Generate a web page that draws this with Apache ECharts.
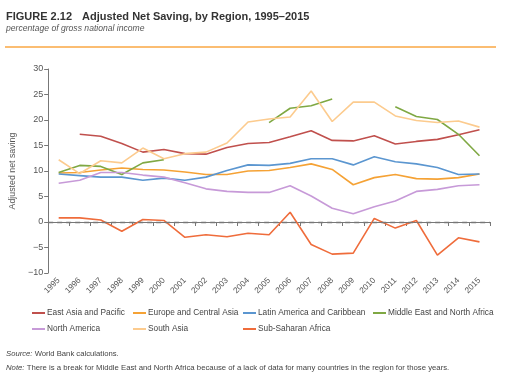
<!DOCTYPE html>
<html><head><meta charset="utf-8">
<script src="https://cdn.jsdelivr.net/npm/echarts@6/dist/echarts.min.js"></script>
<style>html,body{margin:0;padding:0;background:#fff}#c{width:510px;height:379px}</style>
</head><body><div id="c"></div>
<script>
var years = ['1995','1996','1997','1998','1999','2000','2001','2002','2003','2004','2005','2006','2007','2008','2009','2010','2011','2012','2013','2014','2015'];
var eastAsia = [null,17.2,16.8,15.4,13.7,14.2,13.4,13.3,14.6,15.4,15.6,16.7,17.9,16.0,15.9,16.9,15.3,15.8,16.2,17.1,18.1];
var europe = [9.6,9.7,10.2,10.6,10.3,10.2,9.8,9.3,9.3,10.0,10.1,10.7,11.4,10.3,7.3,8.7,9.3,8.5,8.4,8.7,9.4];
var latin = [9.4,9.1,8.8,8.8,8.2,8.6,8.2,8.8,10.1,11.2,11.1,11.5,12.4,12.4,11.2,12.8,11.8,11.4,10.7,9.3,9.4];
var mena = [9.7,11.1,10.9,9.3,11.6,12.2,null,null,null,null,19.5,22.3,22.8,24.1,null,null,22.6,20.7,20.1,17.2,13.0];
var northAm = [7.6,8.2,9.7,9.7,9.2,8.8,7.7,6.5,6.0,5.8,5.8,7.1,5.1,2.7,1.6,3.0,4.1,6.0,6.4,7.1,7.3];
var southAsia = [12.2,9.5,12.0,11.6,14.5,12.4,13.4,13.7,15.5,19.6,20.2,20.6,25.7,19.7,23.5,23.5,20.8,19.9,19.5,19.8,18.6];
var subSahara = [0.8,0.8,0.4,-1.8,0.5,0.3,-3.0,-2.5,-2.9,-2.2,-2.5,1.9,-4.4,-6.3,-6.1,0.7,-1.2,0.3,-6.5,-3.1,-3.9];
var yTicks = [-10,-5,0,5,10,15,20,25,30];

var names = ['East Asia and Pacific','Europe and Central Asia','Latin America and Caribbean','Middle East and North Africa','North America','South Asia','Sub-Saharan Africa'];
var dataSets = [eastAsia, europe, latin, mena, northAm, southAsia, subSahara];
var colors = ['#c0504d','#f5a235','#5b96d0','#7fa843','#c79ad8','#fccb8e','#ef6c3b'];
var FONT = '"Liberation Sans", Arial, sans-serif';

var series = names.map(function(n, i){
  var s = {name:n, type:'line', data:dataSets[i], symbol:'none', connectNulls:false,
    lineStyle:{width:1.6, color:colors[i]}, itemStyle:{color:colors[i]}, z: 3, animation:false};
  if (i === 0) {
    s.markLine = {silent:true, symbol:'none', label:{show:false},
      lineStyle:{type:[5,4], color:'#777', width:1.4}, data:[{yAxis:0}], animation:false};
  }
  return s;
});

function legend(left, items){
  return {left:left, top:309, padding:0, orient:'vertical', itemGap:8, itemWidth:13, itemHeight:2, icon:'rect',
    data:items, textStyle:{fontFamily:FONT, fontSize:8.3, color:'#444', padding:[0,0,0,-3]}, selectedMode:false};
}

var chart = echarts.init(document.getElementById('c'), null, {renderer:'canvas'});
chart.setOption({
  backgroundColor:'#fff',
  animation:false,
  color: colors,
  title:[
    {left:6, top:8, padding:0, text:'{b|FIGURE 2.12}  {r|Adjusted Net Saving, by Region, 1995–2015}',
      textStyle:{rich:{b:{fontFamily:FONT, fontSize:11, fontWeight:'bold', color:'#333'}, r:{fontFamily:FONT, fontSize:11, color:'#333'}}}},
    {left:6, top:24, padding:0, text:'percentage of gross national income',
      textStyle:{fontFamily:FONT, fontSize:8.6, fontStyle:'italic', fontWeight:'normal', color:'#555'}},
    {left:6, top:350, padding:0, text:'{i|Source:} World Bank calculations.',
      textStyle:{rich:{i:{fontFamily:FONT, fontSize:7.7, fontStyle:'italic', color:'#444'}}, fontFamily:FONT, fontSize:7.7, fontWeight:'normal', color:'#444'}},
    {left:6, top:364, padding:0, text:'{i|Note:} There is a break for Middle East and North Africa because of a lack of data for many countries in the region for those years.',
      textStyle:{rich:{i:{fontFamily:FONT, fontSize:7.75, fontStyle:'italic', color:'#444'}}, fontFamily:FONT, fontSize:7.75, fontWeight:'normal', color:'#444'}}
  ],
  graphic:[{type:'rect', shape:{x:5, y:46, width:491, height:2}, style:{fill:'#fbbd72'}, silent:true}],
  legend:[
    legend(32, [names[0], names[4]]),
    legend(133, [names[1], names[5]]),
    legend(243, [names[2], names[6]]),
    legend(373, [names[3]])
  ],
  grid:{left:39, right:20, top:69, bottom:106, containLabel:false},
  xAxis:{type:'category', data:years, boundaryGap:true,
    axisLine:{lineStyle:{color:'#777', width:1}},
    axisTick:{show:true, alignWithLabel:false, length:4, lineStyle:{color:'#777'}},
    axisLabel:{rotate:45, fontFamily:FONT, fontSize:8.3, color:'#555', margin:6, interval:0},
    splitLine:{show:false}},
  yAxis:{type:'value', min:yTicks[0], max:yTicks[yTicks.length-1], interval:5,
    name:'Adjusted net saving', nameLocation:'middle', nameGap:25, nameRotate:90,
    nameTextStyle:{fontFamily:FONT, fontSize:8.8, color:'#555'},
    axisLine:{show:true, lineStyle:{color:'#777', width:1}},
    axisTick:{show:true, length:4, lineStyle:{color:'#777'}},
    axisLabel:{fontFamily:FONT, fontSize:9, color:'#555', margin:5,
      formatter:function(v){ return v < 0 ? '\u2212' + Math.abs(v) : String(v); }},
    splitLine:{show:false}},
  series: series
});
</script></body></html>
